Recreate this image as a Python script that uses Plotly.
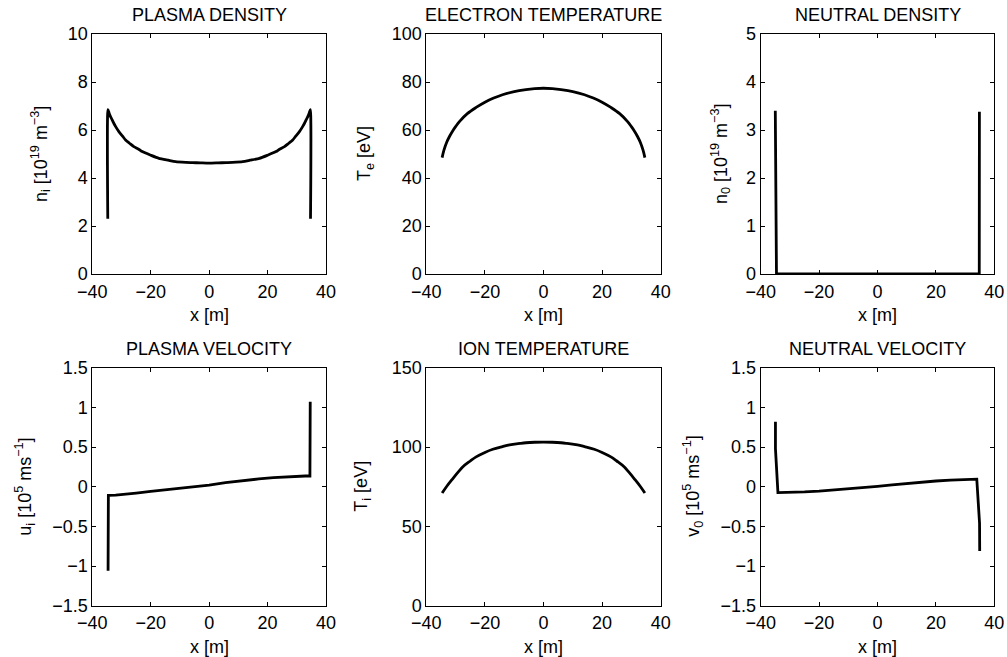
import plotly.graph_objects as go

W, H = 1007, 657

# ---------------- data ----------------
dens_x = [-34.7, -34.65, -34.3, -34.0, -33.6, -33.2, -32.6, -32.0, -30.9, -29.5, -28.6, -27.0,
          -25.8, -24.0, -22.9, -20.0, -17.2, -14.0, -11.5, -8.0, -5.8, -3.0, 0.0,
          3.0, 5.8, 8.0, 11.5, 14.0, 17.2, 20.0, 22.9, 24.0, 25.8, 27.0, 28.6, 29.5,
          30.9, 32.0, 32.6, 33.2, 33.6, 34.0, 34.3, 34.65, 34.7]
dens_y = [2.3, 6.85, 6.72, 6.62, 6.52, 6.42, 6.27, 6.14, 5.93, 5.72, 5.58, 5.42,
          5.31, 5.19, 5.10, 4.95, 4.82, 4.74, 4.68, 4.65, 4.64, 4.63, 4.62,
          4.63, 4.64, 4.65, 4.68, 4.74, 4.82, 4.95, 5.10, 5.19, 5.31, 5.42, 5.58, 5.72,
          5.93, 6.14, 6.27, 6.42, 6.52, 6.62, 6.72, 6.85, 2.3]

te_x = [-34.6, -34.0, -33.0, -32.0, -31.0, -30.0, -28.7, -26.0, -23.0, -20.0, -17.0,
        -14.0, -10.0, -6.0, -3.0, 0.0, 3.0, 6.0, 10.0, 14.0, 17.0, 20.0, 23.0, 26.0,
        28.7, 30.0, 31.0, 32.0, 33.0, 34.0, 34.6]
te_y = [48.5, 51.5, 55.0, 57.5, 59.6, 61.4, 63.5, 66.8, 69.4, 71.6, 73.3,
        74.7, 76.0, 76.8, 77.2, 77.4, 77.2, 76.8, 76.0, 74.7, 73.3, 71.6, 69.4, 66.8,
        63.5, 61.4, 59.6, 57.5, 55.0, 51.5, 48.5]

n0_x = [-35.0, -34.95, -34.6, -34.3, 0.0, 34.4, 34.85, 34.9]
n0_y = [3.4, 2.8, 0.0, 0.0, 0.0, 0.0, 0.0, 3.38]

ui_x = [-34.6, -34.5, -32.0, -28.6, -25.0, -20.0, -17.2, -12.0, -5.8, 0.0, 5.6,
        11.0, 17.0, 22.0, 27.0, 32.9, 34.5, 34.6]
ui_y = [-1.06, -0.11, -0.105, -0.095, -0.08, -0.06, -0.05, -0.028, 0.0, 0.02, 0.05,
        0.075, 0.098, 0.115, 0.127, 0.135, 0.135, 1.07]

ti_x = [-34.6, -33.0, -31.0, -29.0, -27.5, -25.0, -23.0, -20.0, -17.3, -14.0, -11.6,
        -8.0, -6.0, -3.0, 0.0, 3.0, 6.0, 8.0, 11.6, 14.0, 17.3, 20.0, 23.0, 25.0,
        27.5, 29.0, 31.0, 33.0, 34.6]
ti_y = [71.0, 75.3, 80.0, 84.5, 87.6, 91.2, 93.8, 96.6, 98.6, 100.3, 101.4,
        102.3, 102.7, 103.0, 103.1, 103.0, 102.7, 102.3, 101.4, 100.3, 98.6, 96.6, 93.8, 91.2,
        87.6, 84.5, 80.0, 75.3, 71.0]

v0_x = [-34.95, -34.95, -34.1, -30.0, -25.0, -20.0, -15.0, -10.0, -5.0, 0.0, 5.0,
        10.0, 15.0, 20.0, 25.0, 30.0, 34.0, 34.95, 35.0]
v0_y = [0.82, 0.48, -0.075, -0.073, -0.065, -0.055, -0.042, -0.028, -0.012, 0.005, 0.022,
        0.04, 0.057, 0.072, 0.084, 0.092, 0.095, -0.46, -0.81]

titles = ["PLASMA DENSITY", "ELECTRON TEMPERATURE", "NEUTRAL DENSITY",
          "PLASMA VELOCITY", "ION TEMPERATURE", "NEUTRAL VELOCITY"]
ylabels = ["n<sub>i</sub> [10<sup>19</sup> m<sup>−3</sup>]",
           "T<sub>e</sub> [eV]",
           "n<sub>0</sub> [10<sup>19</sup> m<sup>−3</sup>]",
           "u<sub>i</sub> [10<sup>5</sup> ms<sup>−1</sup>]",
           "T<sub>i</sub> [eV]",
           "v<sub>0</sub> [10<sup>5</sup> ms<sup>−1</sup>]"]
xlabel = "x [m]"
x_range = [-40, 40]
x_ticks = [-40, -20, 0, 20, 40]
y_ranges = [[0, 10], [0, 100], [0, 5], [-1.5, 1.5], [0, 150], [-1.5, 1.5]]
y_dticks = [2, 20, 1, 0.5, 50, 0.5]

series = [(dens_x, dens_y), (te_x, te_y), (n0_x, n0_y),
          (ui_x, ui_y), (ti_x, ti_y), (v0_x, v0_y)]
smooth = [0.6, 1.0, 0, 0, 1.0, 0]

# ---------------- layout geometry (pixels) ----------------
col_px = [(92.3, 326.0), (426.3, 660.7), (760.7, 994.3)]
row_px = [(34.0, 274.0), (367.7, 605.7)]
ylab_cx = [40, 365, 720, 25, 363, 693]

FONT = "Liberation Sans, Arial, Helvetica, sans-serif"
FS = 18

fig = go.Figure()
layout = dict(width=W, height=H, margin=dict(l=0, r=0, t=0, b=0, pad=0, autoexpand=False),
              paper_bgcolor="white", plot_bgcolor="white", showlegend=False,
              template="none",
              font=dict(family=FONT, size=FS, color="black"))
annotations = []

for i in range(6):
    r, c = divmod(i, 3)
    x0, x1 = col_px[c]
    yt, yb = row_px[r]
    xa = "xaxis" if i == 0 else f"xaxis{i+1}"
    ya = "yaxis" if i == 0 else f"yaxis{i+1}"
    xr = "x" if i == 0 else f"x{i+1}"
    yr = "y" if i == 0 else f"y{i+1}"
    xs, ys = series[i]
    line = dict(color="black", width=2.8)
    if smooth[i]:
        line.update(shape="spline", smoothing=smooth[i])
    fig.add_trace(go.Scatter(x=xs, y=ys, mode="lines", xaxis=xr, yaxis=yr,
                             line=line, hoverinfo="skip"))
    common = dict(showgrid=False, zeroline=False, showline=True, linecolor="black",
                  linewidth=1, mirror="ticks", ticks="inside", ticklen=4,
                  tickwidth=1, tickcolor="black", automargin=False,
                  tickfont=dict(family=FONT, size=FS, color="black"))
    layout[xa] = dict(domain=[x0 / W, x1 / W], range=x_range, tickmode="array",
                      tickvals=x_ticks, anchor=yr, ticklabelstandoff=1, **common)
    layout[ya] = dict(domain=[1 - yb / H, 1 - yt / H], range=y_ranges[i],
                      dtick=y_dticks[i], tick0=0, anchor=xr, ticklabelstandoff=0,
                      **common)
    # title
    annotations.append(dict(text=titles[i], xref="paper", yref="paper",
                            x=(x0 + x1) / 2 / W, y=1 - (yt - 19) / H,
                            xanchor="center", yanchor="middle", showarrow=False,
                            font=dict(family=FONT, size=FS, color="black")))
    # x label
    annotations.append(dict(text=xlabel, xref="paper", yref="paper",
                            x=(x0 + x1) / 2 / W, y=1 - (yb + 41) / H,
                            xanchor="center", yanchor="middle", showarrow=False,
                            font=dict(family=FONT, size=FS, color="black")))
    # y label
    annotations.append(dict(text=ylabels[i], xref="paper", yref="paper",
                            x=ylab_cx[i] / W, y=1 - (yt + yb) / 2 / H,
                            xanchor="center", yanchor="middle", textangle=-90,
                            showarrow=False,
                            font=dict(family=FONT, size=FS, color="black")))

layout["annotations"] = annotations
fig.update_layout(**layout)
fig.write_html("out.html")
